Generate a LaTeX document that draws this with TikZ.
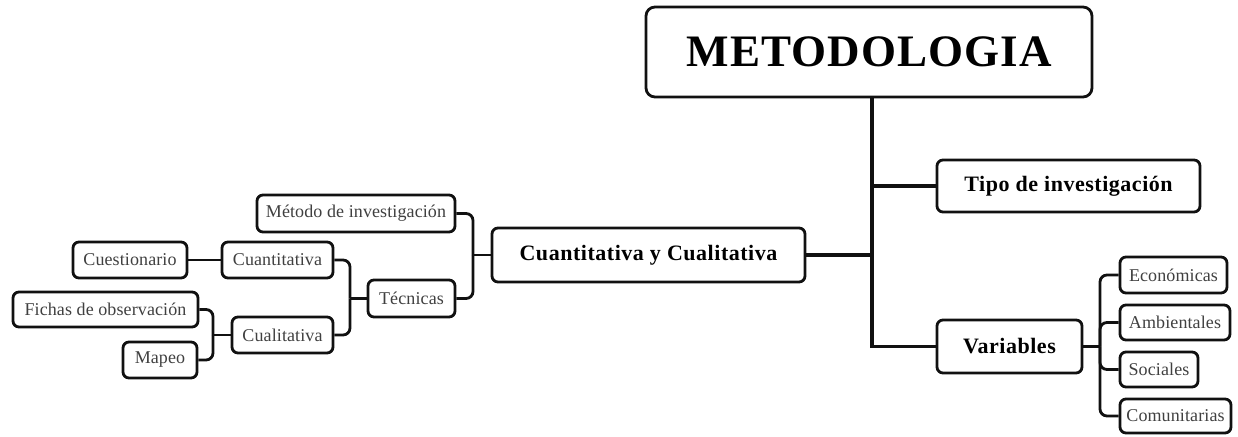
\documentclass[tikz,border=0pt]{standalone}
\usepackage{fontspec}
\setmainfont{Liberation Serif}
\newfontfamily\boldsp[LetterSpace=2.4]{Liberation Serif}
\newfontfamily\regsp[LetterSpace=0.6]{Liberation Serif}
\definecolor{txtgray}{HTML}{404040}
\definecolor{linec}{HTML}{111111}
\begin{document}
\begin{tikzpicture}[x=1pt,y=-1pt,
  box/.style={draw=linec,line width=2.8pt,rounded corners=6pt,inner sep=0pt,align=center,fill=white},
  smallbox/.style={box,font=\regsp\fontsize{18}{20}\selectfont,text=txtgray},
  boldbox/.style={box,font=\boldsp\fontsize{22}{24}\selectfont\bfseries,text=black},
  conn/.style={draw=linec,line width=2.8pt,rounded corners=7pt},
  trunkline/.style={draw=linec,line width=3.2pt}]
\useasboundingbox (0,0) rectangle (1238,436);

% main
\node[box,rounded corners=9pt,font=\boldsp\fontsize{45}{48}\selectfont\bfseries,minimum width=446pt,minimum height=90pt] (meto) at (869,52) {METODOLOGIA};
\node[boldbox,minimum width=263pt,minimum height=52pt] (tipo) at (1068.5,186) {Tipo de investigación};
\node[boldbox,minimum width=145pt,minimum height=53pt] (vars) at (1009.5,346.5) {Variables};
\node[boldbox,minimum width=313pt,minimum height=54pt] (cyc) at (648.5,255) {Cuantitativa y Cualitativa};

% variables children
\node[smallbox,minimum width=107pt,minimum height=36pt] (econ) at (1173.5,275) {Económicas};
\node[smallbox,minimum width=110pt,minimum height=35pt] (amb) at (1175,322.5) {Ambientales};
\node[smallbox,minimum width=78pt,minimum height=35pt] (soc) at (1159,369.5) {Sociales};
\node[smallbox,minimum width=111pt,minimum height=34pt] (com) at (1175.5,416) {Comunitarias};

% left side
\node[smallbox,minimum width=198pt,minimum height=37pt] (met) at (356,213.5) {Método de investigación};
\node[smallbox,minimum width=87pt,minimum height=37pt] (tec) at (411.5,298.5) {Técnicas};
\node[smallbox,minimum width=111pt,minimum height=36pt] (cuant) at (277.5,260) {Cuantitativa};
\node[smallbox,minimum width=101pt,minimum height=36pt] (cual) at (282.5,335) {Cualitativa};
\node[smallbox,minimum width=114pt,minimum height=36pt] (cues) at (130,260) {Cuestionario};
\node[smallbox,minimum width=185pt,minimum height=35pt] (fich) at (105.5,309.5) {Fichas de observación};
\node[smallbox,minimum width=74pt,minimum height=36pt] (mapeo) at (160,360) {Mapeo};

% bus coordinates
\coordinate (tk) at (872,0);
\coordinate (vb) at (1100,346.5);
\coordinate (lb) at (473,255);
\coordinate (tb) at (350,298.5);
\coordinate (cb) at (213,335);

% trunk
\draw[trunkline] (meto.south -| tk) |- (vars.west);
\draw[trunkline] (tk |- tipo.west) -- (tipo.west);
\draw[trunkline] (cyc.east) -- (tk |- cyc.east);

% variables
\draw[conn] (vars.east) -- (vb);
\draw[conn] (vb) |- (econ.west);
\draw[conn] (vb) |- (amb.west);
\draw[conn] (vb) |- (soc.west);
\draw[conn] (vb) |- (com.west);

% left
\draw[conn] (cyc.west) -- (lb);
\draw[conn] (lb) |- (met.east);
\draw[conn] (lb) |- (tec.east);
\draw[conn] (tec.west) -- (tb);
\draw[conn] (tb) |- (cuant.east);
\draw[conn] (tb) |- (cual.east);
\draw[conn,line width=2pt] (cues.east) -- (cuant.west);
\draw[conn] (cual.west) -- (cb);
\draw[conn] (cb) |- (fich.east);
\draw[conn] (cb) |- (mapeo.east);
\end{tikzpicture}
\end{document}
